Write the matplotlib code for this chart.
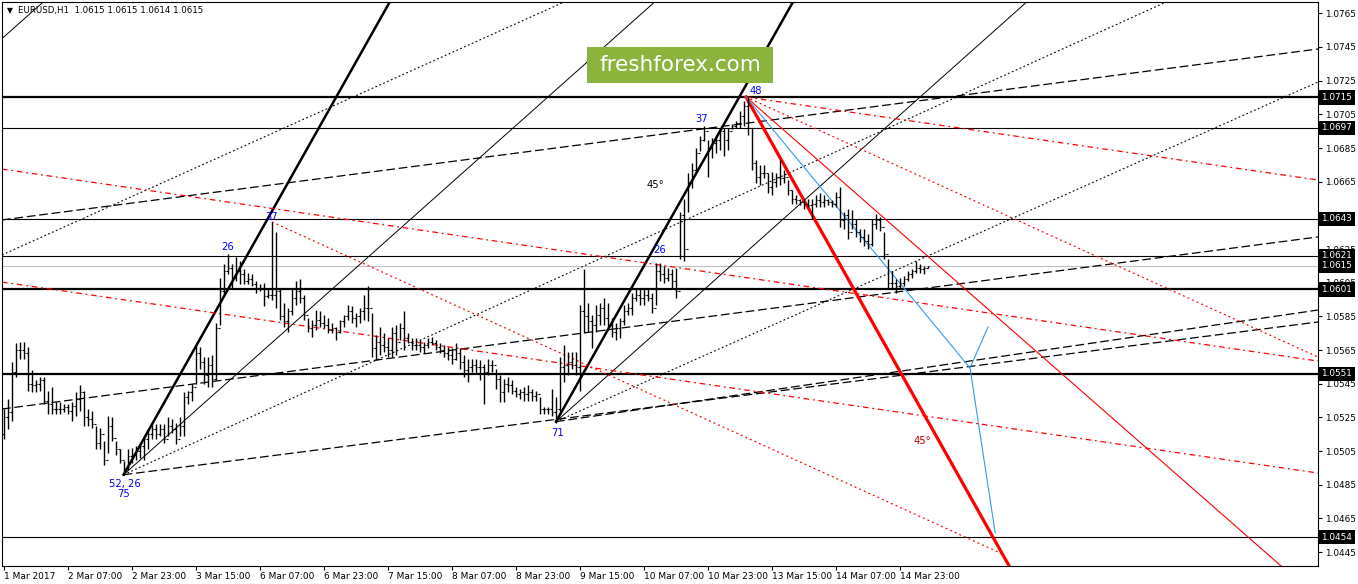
import numpy as np
import matplotlib.pyplot as plt
from matplotlib import transforms
from matplotlib.patches import Rectangle

# EURUSD H1 bars (bar index 0 = "1 Mar 2017" tick)
highs = [
    1.0530, 1.0536, 1.0558, 1.0569, 1.0570, 1.0570, 1.0567, 1.0553, 1.0547, 1.0549,
    1.0549, 1.0541, 1.0543, 1.0534, 1.0534, 1.0533, 1.0533, 1.0534, 1.0540, 1.0544,
    1.0541, 1.0530, 1.0529, 1.0520, 1.0519, 1.0511, 1.0526, 1.0525, 1.0511, 1.0506,
    1.0499, 1.0506, 1.0507, 1.0508, 1.0510, 1.0514, 1.0518, 1.0522, 1.0521, 1.0521,
    1.0521, 1.0525, 1.0524, 1.0522, 1.0525, 1.0540, 1.0541, 1.0545, 1.0568, 1.0567,
    1.0561, 1.0561, 1.0562, 1.0581, 1.0608, 1.0616, 1.0622, 1.0616, 1.0620, 1.0618,
    1.0613, 1.0611, 1.0610, 1.0606, 1.0604, 1.0605, 1.0601, 1.0641, 1.0635, 1.0602,
    1.0593, 1.0590, 1.0601, 1.0606, 1.0607, 1.0598, 1.0584, 1.0583, 1.0589, 1.0588,
    1.0586, 1.0584, 1.0581, 1.0579, 1.0583, 1.0586, 1.0592, 1.0591, 1.0587, 1.0590,
    1.0598, 1.0603, 1.0587, 1.0574, 1.0579, 1.0575, 1.0572, 1.0579, 1.0580, 1.0581,
    1.0588, 1.0575, 1.0572, 1.0572, 1.0571, 1.0570, 1.0572, 1.0573, 1.0571, 1.0569,
    1.0568, 1.0567, 1.0566, 1.0569, 1.0566, 1.0562, 1.0560, 1.0560, 1.0560, 1.0559,
    1.0557, 1.0560, 1.0559, 1.0554, 1.0550, 1.0548, 1.0549, 1.0547, 1.0543, 1.0542,
    1.0543, 1.0544, 1.0542, 1.0541, 1.0537, 1.0531, 1.0531, 1.0542, 1.0537, 1.0561,
    1.0568, 1.0564, 1.0564, 1.0564, 1.0592, 1.0613, 1.0593, 1.0586, 1.0592, 1.0593,
    1.0596, 1.0593, 1.0584, 1.0581, 1.0584, 1.0592, 1.0593, 1.0599, 1.0601, 1.0602,
    1.0601, 1.0602, 1.0599, 1.0617, 1.0617, 1.0615, 1.0614, 1.0613, 1.0614, 1.0647,
    1.0655, 1.0670, 1.0676, 1.0685, 1.0692, 1.0698, 1.0690, 1.0691, 1.0692, 1.0697,
    1.0697, 1.0697, 1.0699, 1.0701, 1.0707, 1.0713, 1.0715, 1.0697, 1.0678, 1.0675,
    1.0675, 1.0670, 1.0671, 1.0670, 1.0678, 1.0672, 1.0666, 1.0660, 1.0657, 1.0655,
    1.0655, 1.0655, 1.0655, 1.0657, 1.0658, 1.0657, 1.0655, 1.0654, 1.0659, 1.0662,
    1.0647, 1.0649, 1.0648, 1.0643, 1.0637, 1.0637, 1.0634, 1.0643, 1.0646, 1.0644,
    1.0635, 1.0619, 1.0612, 1.0607, 1.0608, 1.0609, 1.0612, 1.0613, 1.0618, 1.0616,
    1.0615, 1.0615,
]

lows = [
    1.0512, 1.0518, 1.0523, 1.0549, 1.0560, 1.0560, 1.0541, 1.0540, 1.0540, 1.0541,
    1.0533, 1.0527, 1.0527, 1.0527, 1.0527, 1.0528, 1.0527, 1.0523, 1.0526, 1.0529,
    1.0520, 1.0520, 1.0519, 1.0506, 1.0506, 1.0497, 1.0504, 1.0511, 1.0503, 1.0498,
    1.0491, 1.0494, 1.0498, 1.0500, 1.0501, 1.0500, 1.0506, 1.0512, 1.0512, 1.0514,
    1.0510, 1.0514, 1.0516, 1.0509, 1.0514, 1.0514, 1.0533, 1.0535, 1.0545, 1.0554,
    1.0545, 1.0543, 1.0543, 1.0547, 1.0580, 1.0597, 1.0610, 1.0601, 1.0606, 1.0604,
    1.0604, 1.0604, 1.0603, 1.0599, 1.0600, 1.0591, 1.0596, 1.0595, 1.0590, 1.0583,
    1.0579, 1.0576, 1.0586, 1.0592, 1.0593, 1.0583, 1.0576, 1.0573, 1.0577, 1.0579,
    1.0578, 1.0575, 1.0575, 1.0571, 1.0575, 1.0579, 1.0583, 1.0581, 1.0579, 1.0581,
    1.0583, 1.0582, 1.0561, 1.0559, 1.0562, 1.0564, 1.0561, 1.0561, 1.0562, 1.0571,
    1.0565, 1.0569, 1.0565, 1.0565, 1.0564, 1.0563, 1.0566, 1.0568, 1.0565, 1.0563,
    1.0561, 1.0559, 1.0557, 1.0559, 1.0554, 1.0549, 1.0546, 1.0552, 1.0551, 1.0547,
    1.0533, 1.0550, 1.0552, 1.0542, 1.0534, 1.0534, 1.0540, 1.0539, 1.0537, 1.0536,
    1.0535, 1.0535, 1.0535, 1.0535, 1.0527, 1.0527, 1.0527, 1.0526, 1.0522, 1.0527,
    1.0546, 1.0550, 1.0554, 1.0550, 1.0541, 1.0575, 1.0576, 1.0566, 1.0576, 1.0580,
    1.0580, 1.0577, 1.0573, 1.0571, 1.0572, 1.0580, 1.0586, 1.0586, 1.0594, 1.0592,
    1.0592, 1.0594, 1.0587, 1.0592, 1.0606, 1.0605, 1.0606, 1.0602, 1.0596, 1.0619,
    1.0618, 1.0647, 1.0661, 1.0672, 1.0683, 1.0689, 1.0668, 1.0679, 1.0682, 1.0684,
    1.0680, 1.0684, 1.0696, 1.0697, 1.0697, 1.0698, 1.0693, 1.0672, 1.0664, 1.0663,
    1.0667, 1.0658, 1.0657, 1.0662, 1.0663, 1.0664, 1.0657, 1.0652, 1.0652, 1.0651,
    1.0649, 1.0650, 1.0643, 1.0650, 1.0650, 1.0650, 1.0651, 1.0650, 1.0650, 1.0638,
    1.0637, 1.0631, 1.0637, 1.0632, 1.0629, 1.0627, 1.0625, 1.0627, 1.0637, 1.0636,
    1.0619, 1.0602, 1.0602, 1.0599, 1.0601, 1.0603, 1.0606, 1.0608, 1.0611, 1.0611,
    1.0610, 1.0614,
]

closes = [
    1.0525, 1.0528, 1.0552, 1.0565, 1.0565, 1.0563, 1.0545, 1.0544, 1.0545, 1.0547,
    1.0535, 1.0533, 1.0530, 1.0530, 1.0530, 1.0531, 1.0529, 1.0532, 1.0536, 1.0540,
    1.0525, 1.0524, 1.0521, 1.0510, 1.0515, 1.0500, 1.0520, 1.0513, 1.0506, 1.0500,
    1.0495, 1.0502, 1.0503, 1.0505, 1.0508, 1.0512, 1.0515, 1.0518, 1.0515, 1.0518,
    1.0512, 1.0520, 1.0518, 1.0512, 1.0520, 1.0537, 1.0540, 1.0543, 1.0563, 1.0558,
    1.0550, 1.0556, 1.0548, 1.0578, 1.0600, 1.0612, 1.0614, 1.0608, 1.0612, 1.0610,
    1.0606, 1.0607, 1.0604, 1.0601, 1.0602, 1.0597, 1.0598, 1.0598, 1.0600, 1.0585,
    1.0582, 1.0588, 1.0596, 1.0600, 1.0596, 1.0586, 1.0578, 1.0580, 1.0583, 1.0581,
    1.0580, 1.0577, 1.0578, 1.0576, 1.0582, 1.0585, 1.0588, 1.0584, 1.0585, 1.0588,
    1.0590, 1.0590, 1.0566, 1.0570, 1.0568, 1.0567, 1.0565, 1.0575, 1.0570, 1.0578,
    1.0572, 1.0570, 1.0568, 1.0568, 1.0567, 1.0568, 1.0570, 1.0569, 1.0567, 1.0565,
    1.0563, 1.0562, 1.0560, 1.0563, 1.0558, 1.0553, 1.0555, 1.0556, 1.0555, 1.0555,
    1.0552, 1.0556, 1.0556, 1.0548, 1.0540, 1.0545, 1.0544, 1.0541, 1.0539, 1.0540,
    1.0539, 1.0540, 1.0538, 1.0539, 1.0530, 1.0530, 1.0530, 1.0528, 1.0530, 1.0555,
    1.0556, 1.0558, 1.0556, 1.0555, 1.0588, 1.0585, 1.0582, 1.0580, 1.0586, 1.0590,
    1.0584, 1.0580, 1.0576, 1.0578, 1.0582, 1.0588, 1.0590, 1.0596, 1.0598, 1.0596,
    1.0598, 1.0596, 1.0590, 1.0612, 1.0610, 1.0608, 1.0610, 1.0606, 1.0600, 1.0645,
    1.0625, 1.0665, 1.0672, 1.0682, 1.0690, 1.0695, 1.0685, 1.0688, 1.0690, 1.0695,
    1.0690, 1.0695, 1.0698, 1.0700, 1.0704, 1.0710, 1.0697, 1.0676, 1.0668, 1.0670,
    1.0670, 1.0662, 1.0665, 1.0668, 1.0667, 1.0668, 1.0660, 1.0655, 1.0654, 1.0653,
    1.0652, 1.0651, 1.0652, 1.0654, 1.0653, 1.0654, 1.0653, 1.0652, 1.0656, 1.0642,
    1.0645, 1.0635, 1.0640, 1.0635, 1.0632, 1.0630, 1.0628, 1.0640, 1.0642, 1.0638,
    1.0622, 1.0605, 1.0605, 1.0603, 1.0605, 1.0607, 1.0610, 1.0612, 1.0614, 1.0613,
    1.0614, 1.0615,
]
first_open = 1.0515

time_labels = [
    "1 Mar 2017", "2 Mar 07:00", "2 Mar 23:00", "3 Mar 15:00", "6 Mar 07:00",
    "6 Mar 23:00", "7 Mar 15:00", "8 Mar 07:00", "8 Mar 23:00", "9 Mar 15:00",
    "10 Mar 07:00", "10 Mar 23:00", "13 Mar 15:00", "14 Mar 07:00", "14 Mar 23:00",
]
price_ticks = [1.0765, 1.0745, 1.0725, 1.0705, 1.0685, 1.0665, 1.0645, 1.0625,
               1.0605, 1.0585, 1.0565, 1.0545, 1.0525, 1.0505, 1.0485, 1.0465, 1.0445]
# 1.0645 sits fully under the 1.0643 box on the original scale
hidden_ticks = [1.0645]

# horizontal levels: price, width
levels = [1.0715, 1.0697, 1.0643, 1.0621, 1.0601, 1.0551, 1.0454]
level_widths = [2.0, 1.0, 1.0, 1.0, 2.0, 2.0, 1.0]
last_price = 1.0615

# drawn trendlines: (bar0, price0, bar1, price1, color, width, dash, is_ray)
SOLID = "-"
LDASH = (0, (7, 3))
DOT = (0, (1.6, 2.2))
RDASH = (0, (4.5, 3, 1.5, 3))
RDOT = (0, (1.5, 2.5))

trendlines = [
    # black fans from low "75"
    (30.0, 1.0491, 96.6, 1.0772, "black", 1.8, SOLID, True),
    (30.0, 1.0491, 162.9, 1.0772, "black", 0.7, SOLID, True),
    (30.0, 1.0491, 290.9, 1.0772, "black", 0.8, DOT, True),
    (30.0, 1.0491, 328.6, 1.05817, "black", 0.9, LDASH, True),
    # parallels from the left edge
    (-0.4, 1.0750, 9.1, 1.0770, "black", 0.7, SOLID, True),
    (-0.4, 1.06215, 140.4, 1.0772, "black", 0.8, DOT, True),
    (-0.4, 1.0530, 328.6, 1.06322, "black", 0.9, LDASH, True),
    (-0.4, 1.06423, 328.6, 1.07438, "black", 0.9, LDASH, True),
    # black fans from low "71"
    (138.1, 1.05225, 197.4, 1.0772, "black", 1.8, SOLID, True),
    (138.1, 1.05225, 255.9, 1.0772, "black", 0.7, SOLID, True),
    (138.1, 1.05225, 328.6, 1.07242, "black", 0.8, DOT, True),
    (138.1, 1.05225, 328.6, 1.05888, "black", 0.9, LDASH, True),
    # red fans from high "48"
    (185.6, 1.07153, 251.1, 1.04380, "red", 2.3, SOLID, True),
    (185.6, 1.07153, 321.1, 1.04332, "red", 0.8, SOLID, True),
    (185.6, 1.07153, 328.6, 1.06660, "red", 0.9, RDASH, True),
    (185.6, 1.07153, 328.6, 1.05609, "red", 0.9, RDOT, True),
    # red channel lines
    (-0.4, 1.06725, 328.6, 1.05585, "red", 0.9, RDASH, True),
    (-0.4, 1.06054, 328.6, 1.04920, "red", 0.9, RDASH, True),
    (67.1, 1.06411, 250.3, 1.04433, "red", 0.9, RDOT, False),
]

# projected path (light blue)
path_bars = [185.6, 241.6, 246.1]
path_prices = [1.07153, 1.05544, 1.05787]
path2_bars = [241.6, 247.9]
path2_prices = [1.05544, 1.04564]

# chart labels: text, bar, price, color
labels = [
    ("52, 26", 30.4, 1.04855, "blue"),
    ("75", 29.9, 1.04796, "blue"),
    ("26", 56.0, 1.06264, "blue"),
    ("37", 67.1, 1.06440, "blue"),
    ("71", 138.6, 1.05158, "blue"),
    ("26", 163.9, 1.06244, "blue"),
    ("37", 174.5, 1.07022, "blue"),
    ("48", 188.0, 1.07188, "blue"),
    ("45°", 163.0, 1.06630, "black"),
    ("45°", 229.6, 1.05110, "#c00000"),
]


def ray_end(x0, y0, x1, y1, x_far=400.0):

    slope = (y1 - y0) / (x1 - x0)
    return x_far, y0 + slope * (x_far - x0)


fig = plt.figure(figsize=(13.58, 5.84), dpi=100)
ax = fig.add_axes([2 / 1358, 18 / 584, 1316 / 1358, 564 / 584])

ax.set_xlim(-0.4, 328.6)
ax.set_ylim(1.043679, 1.077171)

#################################################
# LEVELS AND TRENDLINES
#################################################

for lev, w in zip(levels, level_widths):
    ax.axhline(lev, color="black", lw=w * 0.8, zorder=2)

ax.axhline(last_price, color="#c0c0c0", lw=0.8, zorder=1.5)

for x0, y0, x1, y1, col, w, ls, is_ray in trendlines:
    if is_ray:
        x1, y1 = ray_end(x0, y0, x1, y1)
    ax.plot([x0, x1], [y0, y1], color=col, lw=w, linestyle=ls, zorder=2)

ax.plot(path_bars, path_prices, color="#3399ee", lw=0.8, zorder=2.5)
ax.plot(path2_bars, path2_prices, color="#3399ee", lw=0.8, zorder=2.5)

#################################################
# OHLC BARS
#################################################

idx = np.arange(len(highs))
opens = [first_open] + closes[:-1]

ax.vlines(idx, lows, highs, color="black", lw=1.0, zorder=3)
ax.hlines(opens, idx - 0.35, idx, color="black", lw=0.8, zorder=3)
ax.hlines(closes, idx, idx + 0.35, color="black", lw=0.8, zorder=3)

for txt, bx, py, col in labels:
    ax.text(bx, py, txt, color=col, fontsize=7.2,
            ha="center", va="center", zorder=4)

#################################################
# AXES
#################################################

ax.yaxis.tick_right()
ax.set_yticks(price_ticks)
ax.set_yticklabels(["" if p in hidden_ticks else f"{p:.4f}" for p in price_ticks])
ax.tick_params(axis="y", direction="out", length=3, width=0.8,
               labelsize=6.4, pad=2, colors="black")

ax.set_xticks(np.arange(len(time_labels)) * 16)
ax.set_xticklabels(time_labels)
ax.tick_params(axis="x", direction="out", length=3, width=0.8,
               labelsize=6.5, pad=1.5, colors="black")
for lab in ax.get_xticklabels():
    lab.set_horizontalalignment("left")

for sp in ax.spines.values():
    sp.set_color("black")
    sp.set_linewidth(0.8)

# boxed level prices on the price scale
trans = transforms.blended_transform_factory(ax.transAxes, ax.transData)
for lev in levels + [last_price]:
    ax.text(1.0025, lev, f"{lev:.4f}", transform=trans, color="white",
            fontsize=6.4, ha="left", va="center", clip_on=False, zorder=6,
            bbox=dict(boxstyle="square,pad=0.3", fc="black", ec="none"))

# header
fig.text(7 / 1358, 1 - 11 / 584, "▼", fontsize=5.5, ha="left", va="center")
fig.text(18 / 1358, 1 - 11 / 584, "EURUSD,H1  1.0615 1.0615 1.0614 1.0615",
         fontsize=6.2, ha="left", va="center", color="black")

# watermark
fig.add_artist(Rectangle((587 / 1358, 1 - 83 / 584), 186 / 1358, 36 / 584,
                         transform=fig.transFigure, facecolor="#8ab43c",
                         edgecolor="none", zorder=7))
fig.text(680 / 1358, 1 - 65 / 584, "freshforex.com", fontsize=15.5,
         color="white", ha="center", va="center", zorder=8)

fig.savefig("out.png", dpi=100)
